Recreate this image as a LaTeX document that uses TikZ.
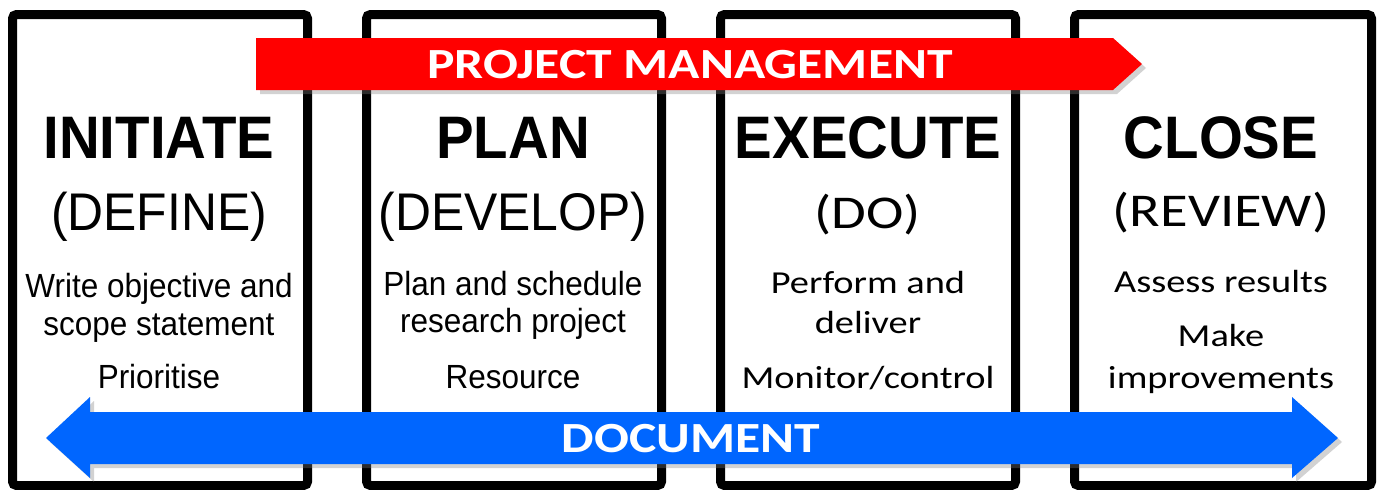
\documentclass[tikz,border=0pt]{standalone}
\usepackage{fontspec}
\usetikzlibrary{shadows}
\newfontfamily\arialf[FakeStretch=0.94]{Liberation Sans}
\newfontfamily\calf[FakeStretch=1.2]{Carlito}
\definecolor{pmred}{RGB}{255,0,0}
\definecolor{docblue}{RGB}{0,102,255}
\tikzset{
  phasebox/.style={draw=black, line width=9pt, rounded corners=4pt, fill=white,
    drop shadow={opacity=0.3, shadow xshift=4pt, shadow yshift=-3pt}},
  bandshadow/.style={drop shadow={opacity=0.35, shadow xshift=4pt, shadow yshift=-4pt}},
  ttl/.style={anchor=base, inner sep=0pt, font=\arialf\bfseries\fontsize{60}{62}\selectfont},
  subA/.style={anchor=base, inner sep=0pt, font=\arialf\fontsize{53}{56}\selectfont},
  subC/.style={anchor=base, inner sep=0pt, font=\calf\fontsize{47}{50}\selectfont},
  bodyA/.style={anchor=base, inner sep=0pt, font=\arialf\fontsize{33.5}{36}\selectfont},
  bodyC/.style={anchor=base, inner sep=0pt, font=\calf\fontsize{32}{35}\selectfont},
  bandtext/.style={inner sep=0pt, text=white, font=\calf\bfseries\fontsize{43}{46}\selectfont},
}
\begin{document}
\begin{tikzpicture}[x=1pt, y=-1pt]
\useasboundingbox (0,0) rectangle (1379,490);

% four phase boxes
\draw[phasebox] (12.5,14.5) rectangle (307.5,485.5);
\draw[phasebox] (366.5,14.5) rectangle (661.5,485.5);
\draw[phasebox] (720.5,14.5) rectangle (1015.5,485.5);
\draw[phasebox] (1074.5,14.5) rectangle (1371.5,485.5);

% phase 1
\node[ttl]   (t1)  at (159,158) {INITIATE};
\node[subA]  (s1)  at (159,230) {(DEFINE)};
\node[bodyA] (b1a) at (159,297) {Write objective and};
\node[bodyA] (b1b) at (159,335) {scope statement};
\node[bodyA] (b1c) at (159,388) {Prioritise};

% phase 2
\node[ttl]   (t2)  at (513,158) {PLAN};
\node[subA]  (s2)  at (513,230) {(DEVELOP)};
\node[bodyA] (b2a) at (513,295) {Plan and schedule};
\node[bodyA] (b2b) at (513,332) {research project};
\node[bodyA] (b2c) at (513,388) {Resource};

% phase 3
\node[ttl]   (t3)  at (868,158) {EXECUTE};
\node[subC]  (s3)  at (868,228) {(DO)};
\node[bodyC] (b3a) at (868,293) {Perform and};
\node[bodyC] (b3b) at (868,333) {deliver};
\node[bodyC] (b3c) at (868,388) {Monitor/control};

% phase 4
\node[ttl]   (t4)  at (1221,158) {CLOSE};
\node[subC]  (s4)  at (1221,226) {(REVIEW)};
\node[bodyC] (b4a) at (1221,292) {Assess results};
\node[bodyC] (b4b) at (1221,346) {Make};
\node[bodyC] (b4c) at (1221,388) {improvements};

% project management band
\fill[pmred, bandshadow] (256,38) -- (1113,38) -- (1142,64) -- (1113,90) -- (256,90) -- cycle;
\node[bandtext] (pm) at (690,65) {PROJECT MANAGEMENT};

% documentation band
\fill[docblue, bandshadow] (46,438) -- (90,397) -- (90,412) -- (1292,412) -- (1292,397)
  -- (1338,438) -- (1292,478) -- (1292,464) -- (90,464) -- (90,478) -- cycle;
\node[bandtext] (doc) at (691,439) {DOCUMENT};
\end{tikzpicture}
\end{document}
